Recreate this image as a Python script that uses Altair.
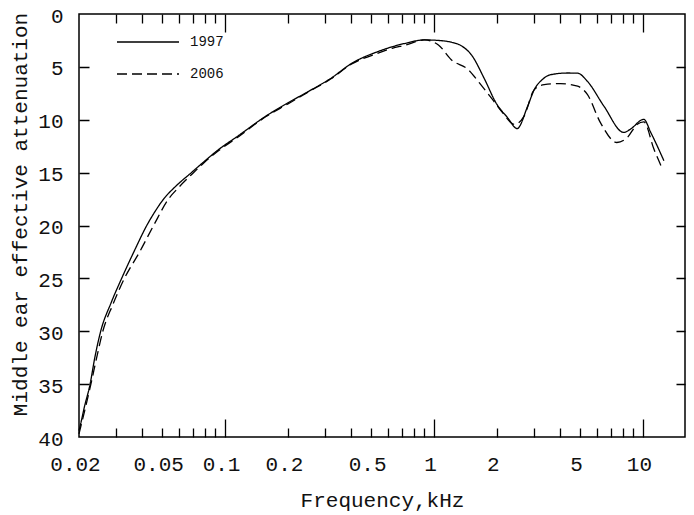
import altair as alt
import pandas as pd

# ---- data ----
freq_1997 = [0.020, 0.0204, 0.0212, 0.0226, 0.0238, 0.0254, 0.0285, 0.032, 0.037, 0.0422,
             0.0465, 0.0508, 0.058, 0.069, 0.080, 0.092, 0.116, 0.157, 0.20, 0.252,
             0.32, 0.406, 0.54, 0.73, 0.90, 1.05, 1.21, 1.35, 1.51, 1.75,
             1.98, 2.25, 2.50, 2.81, 3.02, 3.30, 3.62, 4.36, 4.87, 5.42,
             6.50, 8.10, 8.70, 10.1, 10.9, 12.6]
att_1997 = [39.4, 38.7, 37.2, 35.0, 32.5, 30.0, 27.3, 25.0, 22.3, 20.0,
            18.6, 17.5, 16.3, 15.0, 13.9, 12.9, 11.5, 9.65, 8.4, 7.3,
            6.1, 4.64, 3.55, 2.77, 2.45, 2.5, 2.67, 3.0, 3.86, 6.2,
            8.4, 9.8, 10.83, 8.7, 7.15, 6.2, 5.74, 5.58, 5.6, 6.36,
            8.7, 11.2, 10.9, 9.96, 11.2, 13.87]

freq_2006 = [0.020, 0.0213, 0.0228, 0.0243, 0.026, 0.029, 0.033, 0.039, 0.0455, 0.0536,
             0.060, 0.069, 0.080, 0.092, 0.116, 0.157, 0.20, 0.252, 0.32, 0.406,
             0.54, 0.63, 0.73, 0.90, 1.05, 1.21, 1.46, 1.65, 1.88, 2.10,
             2.43, 2.70, 3.02, 3.37, 4.04, 4.87, 5.42, 6.26, 7.50, 8.40,
             9.40, 10.1, 11.3, 12.4]
att_2006 = [39.7, 37.5, 35.0, 32.5, 30.0, 27.5, 25.0, 22.5, 20.0, 17.5,
            16.4, 15.2, 14.0, 13.0, 11.6, 9.7, 8.5, 7.35, 6.15, 4.7,
            3.7, 3.25, 2.95, 2.45, 2.93, 4.33, 5.27, 6.52, 7.93, 9.18,
            10.43, 9.65, 7.15, 6.68, 6.58, 6.83, 7.6, 10.27, 12.15, 11.7,
            10.43, 10.2, 12.8, 14.65]

series_names = ["1997", "2006"]
x_label_values = [0.02, 0.05, 0.1, 0.2, 0.5, 1, 2, 5, 10]
y_label_values = [0, 5, 10, 15, 20, 25, 30, 35, 40]
x_minor_ticks = [0.03, 0.04, 0.05, 0.06, 0.07, 0.08, 0.09,
                 0.2, 0.3, 0.4, 0.5, 0.6, 0.7, 0.8, 0.9,
                 2, 3, 4, 5, 6, 7, 8, 9]
x_major_ticks = [0.1, 1, 10]

# ---- layout / style ----
W, H = 606, 423
FONT = "Liberation Mono"
INK = "#111111"
MINOR, MAJOR, YTICK = 9, 18, 10

xscale = alt.Scale(type="log", domain=[0.02, 15.9], nice=False)
yscale = alt.Scale(domain=[0, 40], reverse=True, nice=False, zero=False)

x_axis_values = sorted(set(x_label_values + x_minor_ticks + x_major_ticks))
label_list = "[" + ",".join(repr(v) for v in x_label_values) + "]"
major_test = " || ".join(f"datum.value == {v}" for v in x_major_ticks)

# Inward ticks on all four sides: grid lines dashed so that only both ends show.
xaxis = alt.Axis(
    values=x_axis_values,
    labelExpr=f"indexof({label_list}, datum.value) >= 0 ? format(datum.value, '~g') : ''",
    ticks=False, domain=False, grid=True, gridColor="black", gridWidth=1.3,
    gridOpacity={"condition": {"test": "datum.value == 0.02", "value": 0}, "value": 1},
    gridDash={"condition": {"test": major_test, "value": [MAJOR, H - 2 * MAJOR, MAJOR]},
              "value": [MINOR, H - 2 * MINOR, MINOR]},
    labelFont=FONT, labelFontSize=21, labelColor=INK, labelPadding=16, labelOffset=-4,
    labelFlush=False, labelOverlap=False,
    title="Frequency,kHz", titleFont=FONT, titleFontSize=21, titleFontWeight="normal",
    titleColor=INK, titleY=69, titleBaseline="alphabetic")
yaxis = alt.Axis(
    values=y_label_values, ticks=False, domain=False, grid=True, gridColor="black",
    gridWidth=1.3,
    gridOpacity={"condition": {"test": "datum.value == 0 || datum.value == 40", "value": 0},
                 "value": 1},
    gridDash=[YTICK, W - YTICK - MINOR, MINOR],
    labelFont=FONT, labelFontSize=21, labelColor=INK, labelPadding=16, labelOffset=2,
    labelFlush=False, labelOverlap=False,
    title="Middle ear effective attenuation", titleFont=FONT, titleFontSize=21,
    titleFontWeight="normal", titleColor=INK, titleAngle=270, titleX=-59, titleY=200,
    titleAlign="center", titleBaseline="middle")

df = pd.DataFrame({
    "f": freq_1997 + freq_2006,
    "att": att_1997 + att_2006,
    "series": [series_names[0]] * len(freq_1997) + [series_names[1]] * len(freq_2006),
})

chart = alt.Chart(df).mark_line(color="black", strokeWidth=1.3, interpolate="monotone").encode(
    x=alt.X("f:Q", scale=xscale, axis=xaxis),
    y=alt.Y("att:Q", scale=yscale, axis=yaxis),
    strokeDash=alt.StrokeDash("series:N",
        scale=alt.Scale(domain=series_names, range=[[1, 0], [10, 5]]),
        legend=alt.Legend(title=None, orient="none", legendX=37, legendY=20,
                          symbolType="stroke", symbolSize=3844, symbolStrokeWidth=1.3,
                          symbolStrokeColor="black",
                          labelFont=FONT, labelFontSize=14, labelColor=INK, labelOffset=10,
                          clipHeight=16, rowPadding=16, padding=0)),
).properties(
    width=W, height=H, autosize="none", background="white",
    padding={"left": 71, "top": 6, "right": 1, "bottom": 78},
).configure_view(stroke="black", strokeWidth=1.5)

chart.save("out.html", embed_options={"renderer": "svg", "actions": False})
